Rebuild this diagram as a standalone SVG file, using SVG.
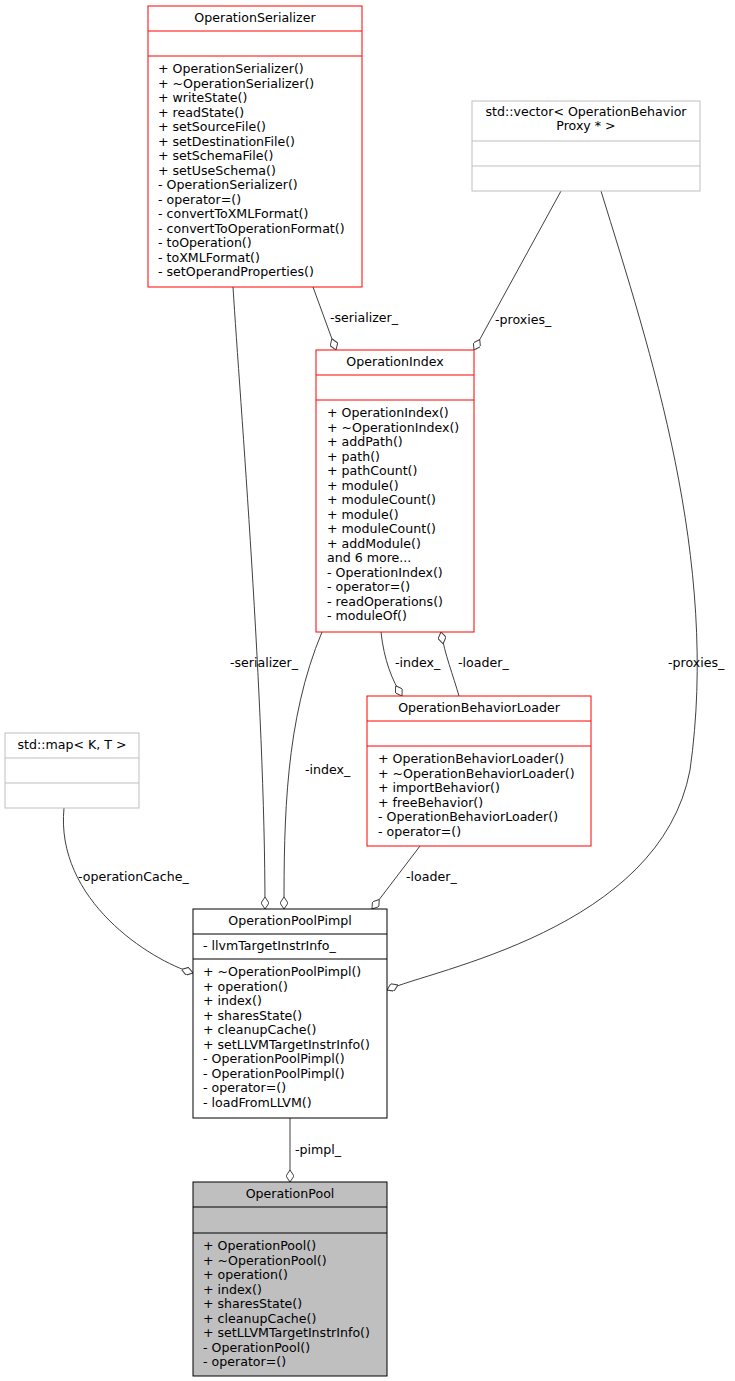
<svg xmlns="http://www.w3.org/2000/svg" width="735" height="1381" viewBox="0 0 735 1381">
<style>
text{font-family:"DejaVu Sans",sans-serif;font-size:12.6px;fill:#000}
.c{text-anchor:middle}
.r{fill:#fff;stroke:#f00;stroke-width:1}
.g{fill:#fff;stroke:#bfbfbf;stroke-width:1}
.k{fill:#fff;stroke:#000;stroke-width:1}
.e{fill:none;stroke:#404040;stroke-width:1;marker-end:url(#d)}
</style>
<defs>
<marker id="d" viewBox="0 0 12 8" refX="12" refY="4" markerWidth="12" markerHeight="8" orient="auto" markerUnits="userSpaceOnUse">
<path d="M0,4 L6,0 L12,4 L6,8 Z" fill="#fff" stroke="#404040"/>
</marker>
</defs>
<rect width="735" height="1381" fill="#fff"/>
<g id="connectors">
<path class="e" d="M313,287 L336,350"/>
<text x="330" y="322">-serializer_</text>
<path class="e" d="M561,191 L474,350"/>
<text x="495" y="324">-proxies_</text>
<path class="e" d="M233,287 C240,400 265,700 265,909"/>
<text x="230" y="667">-serializer_</text>
<path class="e" d="M322,632 C285,720 284,820 284,909"/>
<text x="305" y="774">-index_</text>
<path class="e" d="M381,632 C384,660 392,680 402,696"/>
<text x="395" y="667">-index_</text>
<path class="e" d="M459,696 C453,675 445,655 441,632"/>
<text x="458" y="667">-loader_</text>
<path class="e" d="M420,846 L372,909"/>
<text x="406" y="881">-loader_</text>
<path class="e" d="M64,808 C55,900 150,960 193,973"/>
<text x="78" y="881">-operationCache_</text>
<path class="e" d="M601,191 C650,350 720,560 690,770 C660,930 430,970 387,990"/>
<text x="668" y="667">-proxies_</text>
<path class="e" d="M290,1118 L290,1182"/>
<text x="295" y="1154">-pimpl_</text>
</g>
<g id="OperationSerializer">
<rect class="r" x="148" y="6" width="214" height="281"/>
<path d="M148,31H362M148,56H362" stroke="#f00"/>
<text class="c" x="255" y="22">OperationSerializer</text>
<text x="158" y="73">+ OperationSerializer()</text>
<text x="158" y="87.5">+ ~OperationSerializer()</text>
<text x="158" y="102">+ writeState()</text>
<text x="158" y="116.5">+ readState()</text>
<text x="158" y="131">+ setSourceFile()</text>
<text x="158" y="145.5">+ setDestinationFile()</text>
<text x="158" y="160">+ setSchemaFile()</text>
<text x="158" y="174.5">+ setUseSchema()</text>
<text x="158" y="189">- OperationSerializer()</text>
<text x="158" y="203.5">- operator=()</text>
<text x="158" y="218">- convertToXMLFormat()</text>
<text x="158" y="232.5">- convertToOperationFormat()</text>
<text x="158" y="247">- toOperation()</text>
<text x="158" y="261.5">- toXMLFormat()</text>
<text x="158" y="276">- setOperandProperties()</text>
</g>
<g id="vector">
<rect class="g" x="472" y="101" width="228" height="90"/>
<path d="M472,141H700M472,166H700" stroke="#bfbfbf"/>
<text class="c" x="586" y="116">std::vector&lt; OperationBehavior</text>
<text class="c" x="586" y="130">Proxy * &gt;</text>
</g>
<g id="OperationIndex">
<rect class="r" x="316" y="350" width="158" height="282"/>
<path d="M316,375H474M316,400H474" stroke="#f00"/>
<text class="c" x="395" y="366">OperationIndex</text>
<text x="327" y="417">+ OperationIndex()</text>
<text x="327" y="431.5">+ ~OperationIndex()</text>
<text x="327" y="446">+ addPath()</text>
<text x="327" y="460.5">+ path()</text>
<text x="327" y="475">+ pathCount()</text>
<text x="327" y="489.5">+ module()</text>
<text x="327" y="504">+ moduleCount()</text>
<text x="327" y="518.5">+ module()</text>
<text x="327" y="533">+ moduleCount()</text>
<text x="327" y="547.5">+ addModule()</text>
<text x="327" y="562">and 6 more...</text>
<text x="327" y="576.5">- OperationIndex()</text>
<text x="327" y="591">- operator=()</text>
<text x="327" y="605.5">- readOperations()</text>
<text x="327" y="620">- moduleOf()</text>
</g>
<g id="map">
<rect class="g" x="5" y="733" width="134" height="75"/>
<path d="M5,758H139M5,783H139" stroke="#bfbfbf"/>
<text class="c" x="72" y="749">std::map&lt; K, T &gt;</text>
</g>
<g id="OperationBehaviorLoader">
<rect class="r" x="367" y="696" width="224" height="150"/>
<path d="M367,721H591M367,746H591" stroke="#f00"/>
<text class="c" x="479" y="712">OperationBehaviorLoader</text>
<text x="378" y="763">+ OperationBehaviorLoader()</text>
<text x="378" y="777.5">+ ~OperationBehaviorLoader()</text>
<text x="378" y="792">+ importBehavior()</text>
<text x="378" y="806.5">+ freeBehavior()</text>
<text x="378" y="821">- OperationBehaviorLoader()</text>
<text x="378" y="835.5">- operator=()</text>
</g>
<g id="OperationPoolPimpl">
<rect class="k" x="193" y="909" width="194" height="209"/>
<path d="M193,934H387M193,959H387" stroke="#000"/>
<text class="c" x="290" y="925">OperationPoolPimpl</text>
<text x="203" y="950">- llvmTargetInstrInfo_</text>
<text x="203" y="976">+ ~OperationPoolPimpl()</text>
<text x="203" y="990.5">+ operation()</text>
<text x="203" y="1005">+ index()</text>
<text x="203" y="1019.5">+ sharesState()</text>
<text x="203" y="1034">+ cleanupCache()</text>
<text x="203" y="1048.5">+ setLLVMTargetInstrInfo()</text>
<text x="203" y="1063">- OperationPoolPimpl()</text>
<text x="203" y="1077.5">- OperationPoolPimpl()</text>
<text x="203" y="1092">- operator=()</text>
<text x="203" y="1106.5">- loadFromLLVM()</text>
</g>
<g id="OperationPool">
<rect x="193" y="1182" width="194" height="194" fill="#bfbfbf" stroke="#000"/>
<path d="M193,1207H387M193,1233H387" stroke="#000"/>
<text class="c" x="290" y="1198">OperationPool</text>
<text x="203" y="1250">+ OperationPool()</text>
<text x="203" y="1264.5">+ ~OperationPool()</text>
<text x="203" y="1279">+ operation()</text>
<text x="203" y="1293.5">+ index()</text>
<text x="203" y="1308">+ sharesState()</text>
<text x="203" y="1322.5">+ cleanupCache()</text>
<text x="203" y="1337">+ setLLVMTargetInstrInfo()</text>
<text x="203" y="1351.5">- OperationPool()</text>
<text x="203" y="1366">- operator=()</text>
</g>
</svg>
